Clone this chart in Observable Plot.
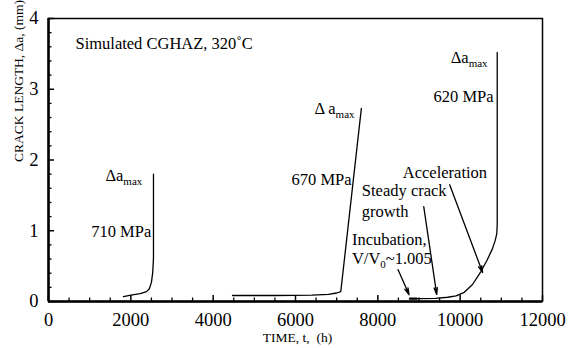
<!DOCTYPE html>
<html>
<head>
<meta charset="utf-8">
<script src="https://cdn.jsdelivr.net/npm/d3@7"></script>
<script src="https://cdn.jsdelivr.net/npm/@observablehq/plot@0.6"></script>
<style>
  html, body { margin: 0; padding: 0; background: #fff; }
  #chart { width: 584px; height: 348px; }
  #chart text { font-family: 'Liberation Serif', 'Times New Roman', serif; }
</style>
</head>
<body>
<div id="chart"></div>
<script>
// ---- data ----
// 710 MPa curve
const t710 = [1820, 2000, 2230, 2380, 2450, 2500, 2530, 2545, 2550, 2550];
const a710 = [0.07, 0.09, 0.11, 0.14, 0.18, 0.27, 0.40, 0.55, 0.62, 1.80];
// 670 MPa curve
const t670 = [4470, 5500, 6400, 6800, 7000, 7100, 7600];
const a670 = [0.085, 0.085, 0.09, 0.10, 0.12, 0.14, 2.73];
// 620 MPa curve
const t620 = [8780, 9000, 9400, 9700, 9900, 10100, 10300, 10500, 10650, 10780, 10850, 10890, 10900, 10900];
const a620 = [0.04, 0.04, 0.045, 0.06, 0.08, 0.13, 0.24, 0.42, 0.58, 0.74, 0.86, 0.96, 1.10, 3.52];
// incubation segment (drawn heavier)
const tInc = [8780, 8940];
const aInc = [0.04, 0.04];

// ticks
const xMajor = [0, 2000, 4000, 6000, 8000, 10000, 12000];
const xMinor = [500, 1000, 1500, 2500, 3000, 3500, 4500, 5000, 5500, 6500, 7000, 7500, 8500, 9000, 9500, 10500, 11000, 11500];
const yMajor = [0, 1, 2, 3, 4];
const yMinor = [0.2, 0.4, 0.6, 0.8, 1.2, 1.4, 1.6, 1.8, 2.2, 2.4, 2.6, 2.8, 3.2, 3.4, 3.6, 3.8];

// annotation labels
const labelText = ["Simulated CGHAZ, 320˚C", "Δa_{max}", "710 MPa", "Δ a_{max}", "670 MPa", "Δa_{max}", "620 MPa",
                   "Acceleration", "Steady crack", "growth", "Incubation,", "V/V_{0}~1.005"];
const labelT = [655, 1382, 2497, 6460, 7362, 9770, 10812, 8606, 7612, 7612, 7370, 7370];
const labelA = [3.65, 1.78, 0.99, 2.72, 1.72, 3.45, 2.89, 1.82, 1.56, 1.27, 0.88, 0.61];
const labelAnchor = ["start", "start", "end", "start", "end", "start", "end", "start", "start", "start", "start", "start"];

// arrows (tail -> head)
const arrowT1 = [8492, 9115, 9745];
const arrowA1 = [0.45, 1.34, 1.65];
const arrowT2 = [8760, 9430, 10545];
const arrowA2 = [0.095, 0.10, 0.41];

// axis titles
const xTitle = "TIME, t,\u00a0 (h)";
const yTitle = "CRACK LENGTH,\u00a0Δa, (mm)";

// ---- build tables ----
const zip = (ts, as) => ts.map((t, i) => ({t, a: as[i]}));
const d710 = zip(t710, a710), d670 = zip(t670, a670), d620 = zip(t620, a620), dInc = zip(tInc, aInc);
const labels = labelText.map((s, i) => ({s, t: labelT[i], a: labelA[i], anchor: labelAnchor[i]}));
const arrows = arrowT1.map((t, i) => ({t1: t, a1: arrowA1[i], t2: arrowT2[i], a2: arrowA2[i]}));

const W = 584, H = 348, mL = 48, mR = 42, mT = 18, mB = 47;
const pw = W - mL - mR, ph = H - mT - mB;
const serif = "'Liberation Serif', 'Times New Roman', serif";

const chart = Plot.plot({
  width: W, height: H,
  marginLeft: mL, marginRight: mR, marginTop: mT, marginBottom: mB,
  x: {domain: [0, 12000]},
  y: {domain: [0, 4]},
  style: {fontFamily: serif, background: "#fff", color: "#000", overflow: "visible"},
  marks: [
    Plot.frame({stroke: "#000", strokeWidth: 1.5}),
    Plot.ruleX([0], {stroke: "#000", strokeWidth: 2.5}),
    Plot.ruleY([0], {stroke: "#000", strokeWidth: 2.5}),
    Plot.tickX(xMajor, {x: d => d, insetTop: ph - 6, stroke: "#000", strokeWidth: 1.5}),
    Plot.tickX(xMinor, {x: d => d, insetTop: ph - 3.5, stroke: "#000", strokeWidth: 1.3}),
    Plot.tickY(yMajor, {y: d => d, insetRight: pw - 6, stroke: "#000", strokeWidth: 1.5}),
    Plot.tickY(yMinor, {y: d => d, insetRight: pw - 3.5, stroke: "#000", strokeWidth: 1.3}),
    Plot.axisX({ticks: xMajor, tickSize: 0, tickPadding: 11, fontSize: 18.5, label: null, tickFormat: d => String(d), fontFamily: serif}),
    Plot.axisY({ticks: yMajor, tickSize: 0, tickPadding: 10, fontSize: 18.5, label: null, tickFormat: d => String(d), fontFamily: serif}),
    Plot.text([xTitle], {frameAnchor: "bottom", dx: 2, dy: 40, fontSize: 13.5, fontFamily: serif, fill: "#000"}),
    Plot.text([yTitle], {frameAnchor: "left", rotate: -90, dx: -30, dy: 2, fontSize: 13.5, fontFamily: serif, fill: "#000"}),
    Plot.line(d710, {x: "t", y: "a", stroke: "#000", strokeWidth: 1.3}),
    Plot.line(d670, {x: "t", y: "a", stroke: "#000", strokeWidth: 1.3}),
    Plot.line(d620, {x: "t", y: "a", stroke: "#000", strokeWidth: 1.3}),
    Plot.line(dInc, {x: "t", y: "a", stroke: "#000", strokeWidth: 2.2}),
    Plot.arrow(arrows, {x1: "t1", y1: "a1", x2: "t2", y2: "a2", stroke: "#000", strokeWidth: 1.3, headLength: 8, headAngle: 28}),
    Plot.text(labels.filter(d => d.anchor === "start"), {x: "t", y: "a", text: "s", textAnchor: "start", fontSize: 16.5, fontFamily: serif, fill: "#000"}),
    Plot.text(labels.filter(d => d.anchor === "end"), {x: "t", y: "a", text: "s", textAnchor: "end", fontSize: 16.5, fontFamily: serif, fill: "#000"})
  ]
});

// turn "_{...}" into real subscripts
const NS = "http://www.w3.org/2000/svg";
chart.querySelectorAll("text").forEach(el => {
  el.setAttribute("font-family", serif);
  el.style.fontFamily = serif;
  const s = el.textContent;
  if (!s.includes("_{")) return;
  el.textContent = "";
  const parts = s.split(/(_\{[^}]*\})/);
  let shifted = false;
  parts.forEach(p => {
    if (!p) return;
    const ts = document.createElementNS(NS, "tspan");
    if (p.startsWith("_{")) {
      ts.textContent = p.slice(2, -1);
      ts.setAttribute("dy", "4");
      ts.setAttribute("font-size", "11");
      shifted = true;
    } else {
      ts.textContent = p;
      if (shifted) { ts.setAttribute("dy", "-4"); shifted = false; }
    }
    el.appendChild(ts);
  });
});

document.getElementById("chart").appendChild(chart);
</script>
</body>
</html>
